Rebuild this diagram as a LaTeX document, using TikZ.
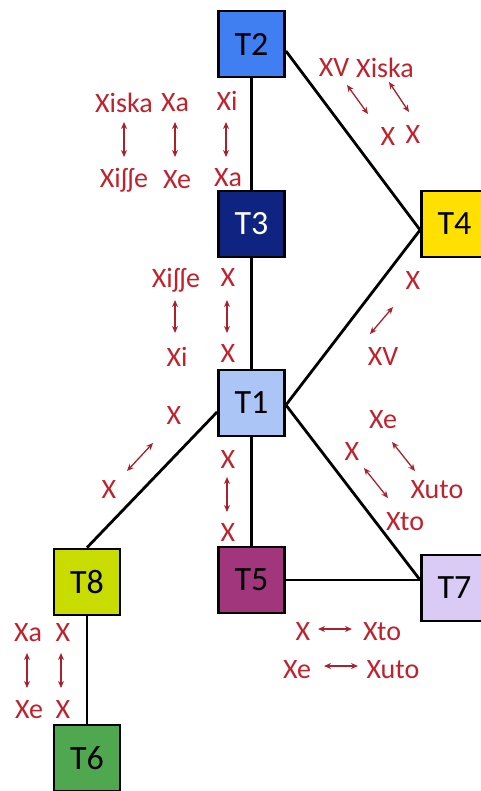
\documentclass[tikz,border=0pt]{standalone}
\usepackage{fontspec}
\setmainfont{Carlito}
\usetikzlibrary{arrows.meta}
\definecolor{lblred}{HTML}{C0222D}
\definecolor{arrred}{HTML}{A8222E}
\definecolor{cT2}{HTML}{3F7FF2}
\definecolor{cT3}{HTML}{0E2480}
\definecolor{cT1}{HTML}{AAC5F6}
\definecolor{cT4}{HTML}{FFE000}
\definecolor{cT5}{HTML}{A2367C}
\definecolor{cT7}{HTML}{DACAF6}
\definecolor{cT8}{HTML}{C8DC00}
\definecolor{cT6}{HTML}{4FA84F}
\tikzset{
  tbox/.style={draw=black, line width=2.8pt, minimum size=66pt, inner sep=0pt, font=\fontsize{34}{34}\selectfont},
  edge/.style={line width=2.8pt, black},
  lbl/.style={text=lblred, inner sep=0pt, font=\fontsize{28}{28}\selectfont},
  rel/.style={arrred, line width=1.3pt, {Stealth[length=7pt,width=6pt]}-{Stealth[length=7pt,width=6pt]}}
}
\begin{document}
\begin{tikzpicture}[x=1pt,y=-1pt]
\useasboundingbox (0,0) rectangle (481,791);
\clip (0,0) rectangle (481,791);
% boxes
\node[tbox, fill=cT2] (T2) at (251.5,44) {T2};
\node[tbox, fill=cT3, text=white] (T3) at (251.5,224) {T3};
\node[tbox, fill=cT1] (T1) at (251.5,403) {T1};
\node[tbox, fill=cT4] (T4) at (454.5,224) {T4};
\node[tbox, fill=cT5] (T5) at (251.5,580) {T5};
\node[tbox, fill=cT7] (T7) at (454.5,588) {T7};
\node[tbox, fill=cT8] (T8) at (87,582) {T8};
\node[tbox, fill=cT6] (T6) at (87,758) {T6};
% edges
\draw[edge] (T2.south) -- (T3.north);
\draw[edge] (T3.south) -- (T1.north);
\draw[edge] (T1.south) -- (T5.north);
\draw[edge] (T8.south) -- (T6.north);
\draw[edge] ([yshift=-7pt]T2.east) -- ([yshift=-6pt]T4.west);
\draw[edge] ([yshift=-2pt]T1.east) -- ([yshift=-6pt]T4.west);
\draw[edge] ([yshift=-9pt]T1.west) -- (T8.north);
\draw[edge] ([yshift=-2pt]T1.east) -- ([yshift=8pt]T7.west);
\draw[edge] (T5.east) -- ([yshift=8pt]T7.west);
% labels top-left (T2-T3)
\node[lbl] (l1a) at (124,103) {Xiska};
\node[lbl] (l1b) at (124,180) {Xiʃʃe};
\node[lbl] (l2a) at (175,103) {Xa};
\node[lbl] (l2b) at (177,180) {Xe};
\node[lbl] (l3a) at (227,101) {Xi};
\node[lbl] (l3b) at (228,178) {Xa};
\coordinate (a1s) at (124,122); \coordinate (a1e) at (124,157);
\coordinate (a2s) at (175,122); \coordinate (a2e) at (175,157);
\coordinate (a3s) at (226,122); \coordinate (a3e) at (226,157);
\draw[rel] (a1s) -- (a1e);
\draw[rel] (a2s) -- (a2e);
\draw[rel] (a3s) -- (a3e);
% labels top-right (T2-T4)
\node[lbl] (l4a) at (334,68) {XV};
\node[lbl] (l5a) at (385,68) {Xiska};
\node[lbl] (l4b) at (388,137) {X};
\node[lbl] (l5b) at (413,135) {X};
\coordinate (a4s) at (347,85); \coordinate (a4e) at (368,114);
\coordinate (a5s) at (389,82); \coordinate (a5e) at (409,112);
\draw[rel] (a4s) -- (a4e);
\draw[rel] (a5s) -- (a5e);
% labels T3-T1
\node[lbl] (l6a) at (176,280) {Xiʃʃe};
\node[lbl] (l6b) at (177,357) {Xi};
\node[lbl] (l7a) at (228,278) {X};
\node[lbl] (l7b) at (228,354) {X};
\coordinate (a6s) at (175,300); \coordinate (a6e) at (175,333);
\coordinate (a7s) at (227,300); \coordinate (a7e) at (227,333);
\draw[rel] (a6s) -- (a6e);
\draw[rel] (a7s) -- (a7e);
% labels T4-T1
\node[lbl] (l8a) at (413,281) {X};
\node[lbl] (l8b) at (383,357) {XV};
\coordinate (a8s) at (393,307); \coordinate (a8e) at (370,334);
\draw[rel] (a8s) -- (a8e);
% labels T1-T8
\node[lbl] (l9a) at (174,416) {X};
\node[lbl] (l9b) at (109,490) {X};
\coordinate (a9s) at (153,443); \coordinate (a9e) at (127,471);
\draw[rel] (a9s) -- (a9e);
% labels T1-T5
\node[lbl] (l10a) at (228,460) {X};
\node[lbl] (l10b) at (228,533) {X};
\coordinate (a10s) at (227,477); \coordinate (a10e) at (227,512);
\draw[rel] (a10s) -- (a10e);
% labels T1-T7
\node[lbl] (l11a) at (383,420) {Xe};
\node[lbl] (l11b) at (437,490) {Xuto};
\node[lbl] (l12a) at (352,452) {X};
\node[lbl] (l12b) at (405,522) {Xto};
\coordinate (a11s) at (392,442); \coordinate (a11e) at (415,471);
\coordinate (a12s) at (364,468); \coordinate (a12e) at (388,498);
\draw[rel] (a11s) -- (a11e);
\draw[rel] (a12s) -- (a12e);
% labels T5-T7
\node[lbl] (l13a) at (303,632) {X};
\node[lbl] (l13b) at (382,632) {Xto};
\node[lbl] (l14a) at (297,670) {Xe};
\node[lbl] (l14b) at (393,670) {Xuto};
\coordinate (a13s) at (318,629); \coordinate (a13e) at (352,629);
\coordinate (a14s) at (324,666); \coordinate (a14e) at (358,666);
\draw[rel] (a13s) -- (a13e);
\draw[rel] (a14s) -- (a14e);
% labels T8-T6
\node[lbl] (l15a) at (28,633) {Xa};
\node[lbl] (l15b) at (29,710) {Xe};
\node[lbl] (l16a) at (63,633) {X};
\node[lbl] (l16b) at (63,710) {X};
\coordinate (a15s) at (27,653); \coordinate (a15e) at (27,688);
\coordinate (a16s) at (61,653); \coordinate (a16e) at (61,688);
\draw[rel] (a15s) -- (a15e);
\draw[rel] (a16s) -- (a16e);
\end{tikzpicture}
\end{document}
